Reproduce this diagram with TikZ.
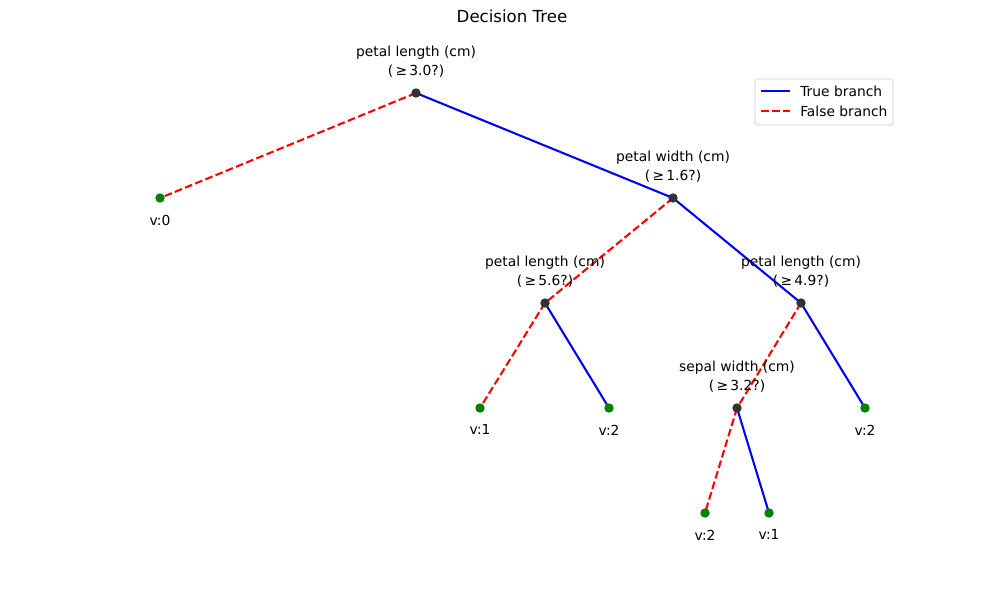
\documentclass[tikz,border=0pt]{standalone}
\usepackage{fontspec}
\setmainfont{DejaVu Sans}
\usetikzlibrary{positioning}
\pgfdeclarelayer{bg}
\pgfsetlayers{bg,main}

\begin{document}
\begin{tikzpicture}[
            x=0.0254cm, y=-0.0254cm,
            font=\fontsize{10}{13.7}\selectfont,
            split/.style = {circle, fill=black!80, inner sep=0pt, minimum size=6.8pt},
            leaf/.style = {circle, fill=green!50!black, inner sep=0pt, minimum size=6.8pt},
            test/.style = {align=center, inner sep=0pt},
            value/.style = {inner sep=0pt},
            truebr/.style = {line width=1.5pt, blue},
            falsebr/.style = {line width=1.5pt, red, dash pattern=on 5.55pt off 2.4pt}
        ]
            \useasboundingbox (0,0) rectangle (1000,600);

            % --- 1. Nodes ---
            \node [split] (petalA) at (416,93) {};
            \node [leaf] (leaf0) at (160,198) {};
            \node [split] (widthB) at (673,198) {};
            \node [split] (petalC) at (545,303) {};
            \node [split] (petalD) at (801,303) {};
            \node [leaf] (leaf1) at (480,408) {};
            \node [leaf] (leaf2) at (609,408) {};
            \node [split] (sepalE) at (737,408) {};
            \node [leaf] (leaf3) at (865,408) {};
            \node [leaf] (leaf4) at (705,513) {};
            \node [leaf] (leaf5) at (769,513) {};

            % Title
            \node [value, font=\fontsize{12}{14}\selectfont] (title) at (512,16) {Decision Tree};

            % --- 2. Branches (under the markers) ---
            \begin{pgfonlayer}{bg}
            \draw [falsebr] (petalA.center) -- (leaf0.center);
            \draw [truebr] (petalA.center) -- (widthB.center);
            \draw [falsebr] (widthB.center) -- (petalC.center);
            \draw [truebr] (widthB.center) -- (petalD.center);
            \draw [falsebr] (petalC.center) -- (leaf1.center);
            \draw [truebr] (petalC.center) -- (leaf2.center);
            \draw [falsebr] (petalD.center) -- (sepalE.center);
            \draw [truebr] (petalD.center) -- (leaf3.center);
            \draw [falsebr] (sepalE.center) -- (leaf4.center);
            \draw [truebr] (sepalE.center) -- (leaf5.center);
            \end{pgfonlayer}

            % --- 3. Labels ---
            \node [test, above=11pt of petalA.center] (petalAtxt) {petal length (cm)\\(\,≥\,3.0?)};
            \node [test, above=11pt of widthB.center] (widthBtxt) {petal width (cm)\\(\,≥\,1.6?)};
            \node [test, above=11pt of petalC.center] (petalCtxt) {petal length (cm)\\(\,≥\,5.6?)};
            \node [test, above=11pt of petalD.center] (petalDtxt) {petal length (cm)\\(\,≥\,4.9?)};
            \node [test, above=11pt of sepalE.center] (sepalEtxt) {sepal width (cm)\\(\,≥\,3.2?)};

            \node [value, below=12pt of leaf0.center] (leaf0txt) {v:0};
            \node [value, below=12pt of leaf1.center] (leaf1txt) {v:1};
            \node [value, below=12pt of leaf2.center] (leaf2txt) {v:2};
            \node [value, below=12pt of leaf3.center] (leaf3txt) {v:2};
            \node [value, below=12pt of leaf4.center] (leaf4txt) {v:2};
            \node [value, below=12pt of leaf5.center] (leaf5txt) {v:1};

            % --- 4. Legend ---
            \draw [black!20, rounded corners=2pt] (755,79) rectangle (893,125);
            \coordinate (trueA) at (761,91);
            \coordinate (trueB) at (790,91);
            \coordinate (falseA) at (761,111);
            \coordinate (falseB) at (790,111);
            \draw [truebr] (trueA) -- (trueB);
            \draw [falsebr] (falseA) -- (falseB);
            \node [value, anchor=west] (truetxt) at (800,91) {True branch};
            \node [value, anchor=west] (falsetxt) at (800,111) {False branch};

        \end{tikzpicture}
\end{document}
